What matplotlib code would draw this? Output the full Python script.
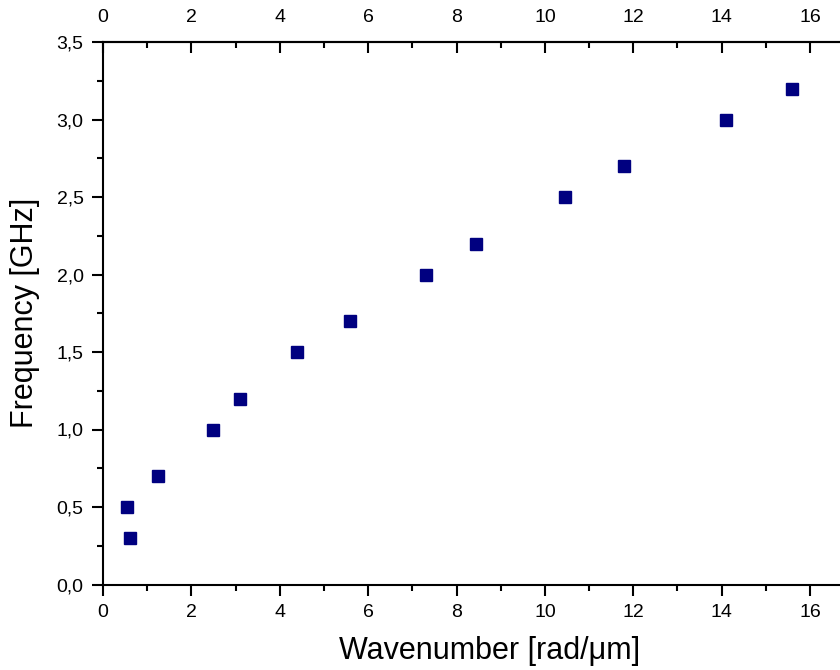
import matplotlib
matplotlib.use('Agg')
import matplotlib.pyplot as plt
from matplotlib.ticker import MultipleLocator, FixedLocator, FuncFormatter

plt.rcParams['font.family'] = ['Liberation Sans', 'DejaVu Sans']

# data
wavenumber = [0.55, 0.6, 1.25, 2.5, 3.1, 4.4, 5.6, 7.3, 8.45, 10.45, 11.8, 14.1, 15.6]
frequency = [0.5, 0.3, 0.7, 1.0, 1.2, 1.5, 1.7, 2.0, 2.2, 2.5, 2.7, 3.0, 3.2]

fig = plt.figure(figsize=(8.4, 6.7), dpi=100)
# axes run past the right edge of the figure, as in the original crop
ax = fig.add_axes([103/840, 85.5/670, 17.5*44.19/840, 542.5/670])

ax.plot(wavenumber, frequency, 's', color='#000080', ms=8.5, mec='#000080')

ax.set_xlim(0, 17.5)
ax.set_ylim(0, 3.5)

ax.xaxis.set_major_locator(FixedLocator(range(0, 17, 2)))
ax.xaxis.set_minor_locator(FixedLocator(range(1, 18, 2)))
ax.yaxis.set_major_locator(MultipleLocator(0.5))
ax.yaxis.set_minor_locator(MultipleLocator(0.25))
ax.yaxis.set_major_formatter(FuncFormatter(lambda v, p: f'{v:.1f}'.replace('.', ',')))

for s in ax.spines.values():
    s.set_linewidth(1.5)

ax.tick_params(axis='both', which='major', length=8, width=1.5, labelsize=14, direction='out', pad=6)
ax.tick_params(axis='both', which='minor', length=4.5, width=1.5, direction='out')

# top axis: same scale, ticks pointing into the plot
top = ax.secondary_xaxis('top')
top.xaxis.set_major_locator(FixedLocator(range(0, 17, 2)))
top.xaxis.set_minor_locator(FixedLocator(range(1, 18, 2)))
top.spines['top'].set_linewidth(1.5)
top.tick_params(which='major', direction='in', length=8, width=1.5, labelsize=14, pad=11.5)
top.tick_params(which='minor', direction='in', length=4.5, width=1.5)

ax.set_xlabel('Wavenumber [rad/\u03bcm]', fontsize=22, labelpad=11)
ax.set_ylabel('Frequency [GHz]', fontsize=22, labelpad=12)

plt.savefig('out.png', dpi=100)
